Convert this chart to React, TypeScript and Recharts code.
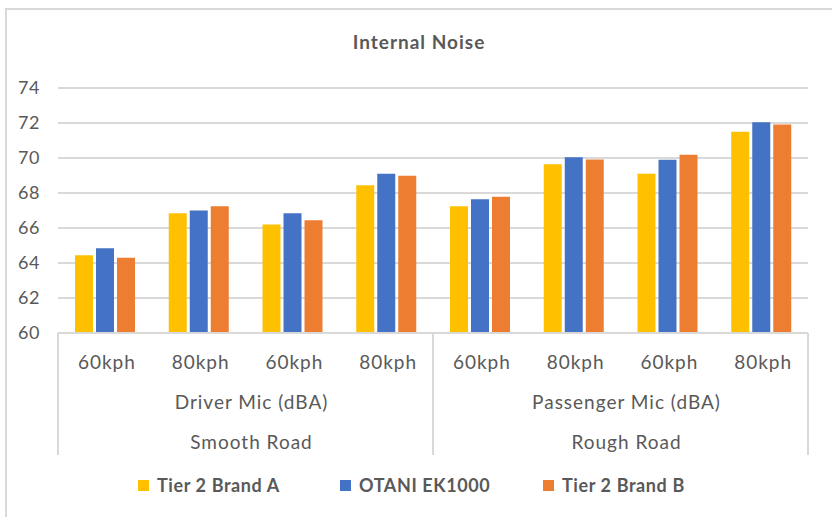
import { BarChart, Bar, XAxis, YAxis, CartesianGrid } from 'recharts';

const speeds = ['60kph', '80kph', '60kph', '80kph', '60kph', '80kph', '60kph', '80kph'];
const mics = ['Driver Mic (dBA)', 'Driver Mic (dBA)', 'Driver Mic (dBA)', 'Driver Mic (dBA)',
  'Passenger Mic (dBA)', 'Passenger Mic (dBA)', 'Passenger Mic (dBA)', 'Passenger Mic (dBA)'];
const roads = ['Smooth Road', 'Smooth Road', 'Smooth Road', 'Smooth Road',
  'Rough Road', 'Rough Road', 'Rough Road', 'Rough Road'];

const brandA = [64.45, 66.85, 66.2, 68.45, 67.25, 69.65, 69.1, 71.5];
const otani = [64.85, 67.0, 66.85, 69.1, 67.65, 70.05, 69.9, 72.05];
const brandB = [64.3, 67.25, 66.45, 68.98, 67.78, 69.92, 70.18, 71.92];

const yTicks = [60, 62, 64, 66, 68, 70, 72, 74];

const seriesInfo = [
  { key: 'brandA', name: 'Tier 2 Brand A', color: '#FFC000' },
  { key: 'otani', name: 'OTANI EK1000', color: '#4472C4' },
  { key: 'brandB', name: 'Tier 2 Brand B', color: '#ED7D31' },
];

const data = speeds.map((s, i) => ({
  speed: s,
  mic: mics[i],
  road: roads[i],
  brandA: brandA[i],
  otani: otani[i],
  brandB: brandB[i],
}));

const W = 832;
const H = 517;
const PLOT_LEFT = 58;
const PLOT_RIGHT = 808;
const PLOT_TOP = 88;
const AXIS_Y = 333;
const X_AXIS_H = 130;
const SLOT = (PLOT_RIGHT - PLOT_LEFT) / data.length;
const TEXT = '#595959';
const LINE = '#d9d9d9';
const FONT = 'Lato, "Open Sans", sans-serif';
const legendX = [138, 340, 543];

function YTick(props: any) {
  const { y, payload } = props;
  return (
    <text x={40} y={y} dy={6} textAnchor="end" fill={TEXT} fontSize={18} letterSpacing={0.5} fontFamily={FONT}>
      {payload.value}
    </text>
  );
}

// length of the run of equal labels starting at i (0 if i is inside a run)
function groupSpan(arr: string[], i: number) {
  if (i > 0 && arr[i - 1] === arr[i]) return 0;
  let n = 1;
  while (i + n < arr.length && arr[i + n] === arr[i]) n++;
  return n;
}

function XTick(props: any) {
  const { x, payload } = props;
  const i = payload.index;
  const micRun = groupSpan(mics, i);
  const roadRun = groupSpan(roads, i);
  const left = x - SLOT / 2;
  return (
    <g fontFamily={FONT} fill={TEXT} fontSize={19} letterSpacing={1}>
      <text x={x + 2} y={AXIS_Y + 36} textAnchor="middle">{payload.value}</text>
      {micRun > 0 && (
        <text x={left + (micRun * SLOT) / 2 + 6} y={AXIS_Y + 76} textAnchor="middle">{mics[i]}</text>
      )}
      {roadRun > 0 && (
        <text x={left + (roadRun * SLOT) / 2 + 6} y={AXIS_Y + 116} textAnchor="middle">{roads[i]}</text>
      )}
      {micRun > 0 && <line x1={left} x2={left} y1={AXIS_Y} y2={AXIS_Y + 122} stroke={LINE} strokeWidth={2} />}
      {i === data.length - 1 && (
        <line x1={x + SLOT / 2} x2={x + SLOT / 2} y1={AXIS_Y} y2={AXIS_Y + 122} stroke={LINE} strokeWidth={2} />
      )}
    </g>
  );
}

export default function App() {
  return (
    <div style={{ position: 'absolute', left: 0, top: 0, width: W, height: H, background: '#fff', overflow: 'hidden' }}>
      <div style={{ position: 'absolute', left: 5, top: 8, width: W + 20, height: H + 20, border: `2px solid ${LINE}`, boxSizing: 'border-box' }} />
      <div style={{ position: 'absolute', left: 0, width: 838, top: 30, textAlign: 'center', fontFamily: FONT, fontWeight: 700, fontSize: 19, letterSpacing: 1, color: TEXT }}>
        Internal Noise
      </div>
      <div style={{ position: 'absolute', left: 0, top: 0 }}>
        <BarChart
          width={W}
          height={H}
          data={data}
          margin={{ top: PLOT_TOP, right: W - PLOT_RIGHT, bottom: H - AXIS_Y - X_AXIS_H, left: 0 }}
          barGap={3}
          barSize={18}
        >
          <CartesianGrid horizontal vertical={false} stroke={LINE} strokeWidth={2} />
          <XAxis
            dataKey="speed"
            tick={<XTick />}
            tickLine={false}
            axisLine={{ stroke: LINE, strokeWidth: 2 }}
            interval={0}
            height={X_AXIS_H}
          />
          <YAxis
            domain={[60, 74]}
            ticks={yTicks}
            tick={<YTick />}
            width={PLOT_LEFT}
            axisLine={false}
            tickLine={false}
            allowDataOverflow
          />
          {seriesInfo.map((s) => (
            <Bar key={s.key} dataKey={s.key} name={s.name} fill={s.color} isAnimationActive={false} />
          ))}
        </BarChart>
      </div>
      {seriesInfo.map((s, i) => (
        <div key={s.key} style={{ position: 'absolute', left: legendX[i], top: 474, display: 'flex', alignItems: 'center', fontFamily: FONT, fontWeight: 700, fontSize: 18, letterSpacing: 0.6, color: TEXT, whiteSpace: 'nowrap' }}>
          <span style={{ display: 'inline-block', width: 11, height: 11, background: s.color, marginRight: 8 }} />
          {s.name}
        </div>
      ))}
    </div>
  );
}
